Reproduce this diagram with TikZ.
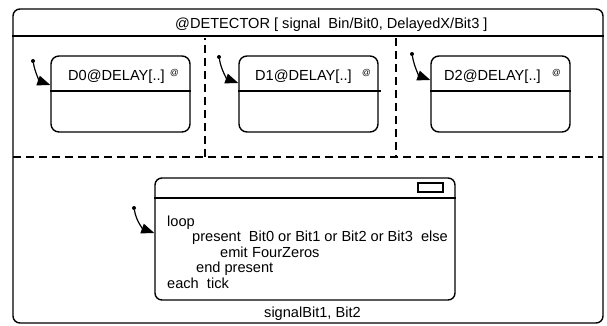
\documentclass[tikz,border=0pt]{standalone}
\usepackage{fontspec}
\setmainfont{Liberation Sans}
\usetikzlibrary{arrows.meta}
\begin{document}
\begin{tikzpicture}[x=1pt,y=-1pt,
  frame/.style={draw, line width=1.4pt, rounded corners=7pt, minimum width=#1, inner sep=0pt},
  statebox/.style={draw, line width=1.4pt, rounded corners=8pt, minimum width=139pt, minimum height=76pt, inner sep=0pt},
  divider/.style={line width=1.4pt},
  regionsep/.style={line width=1.4pt, dash pattern=on 8pt off 5pt},
  txt/.style={anchor=base west, inner sep=0pt, font=\fontsize{14.6}{15.5}\selectfont},
  tag/.style={anchor=base west, inner sep=0pt, font=\fontsize{8.5}{9}\selectfont},
  startdot/.style={circle, fill=black, inner sep=0pt, minimum size=4pt},
  init/.style={line width=1.2pt, -{Triangle[length=13pt,width=10pt]}}
]
\useasboundingbox (0,0) rectangle (607,326);

% outer state
\node[frame=590pt, minimum height=314pt] (outer) at (308,166) {};
\draw[divider] (outer.west |- 0,36) coordinate (tl) -- (outer.east |- 0,36) coordinate (tr);
\node[txt] (title) at (175,29) {@DETECTOR [ signal\ \ Bin/Bit0, DelayedX/Bit3 ]};

% concurrent regions
\coordinate (h0) at (13,157);
\coordinate (h1) at (603,157);
\draw[regionsep] (h0) -- (h1);
\coordinate (va) at (205,38);
\coordinate (vb) at (205,157);
\coordinate (vc) at (396,38);
\coordinate (vd) at (396,157);
\draw[regionsep, dash phase=6pt] (va) -- (vb);
\draw[regionsep] (vc) -- (vd);

% delay instances
\node[statebox] (d0) at (120.5,94) {};
\node[statebox] (d1) at (308.5,94) {};
\node[statebox] (d2) at (500.5,94) {};
\draw[divider] (d0.west |- 0,91) -- (d0.east |- 0,91);
\draw[divider] (d1.west |- 0,91) -- ([xshift=2pt]d1.east |- 0,91);
\draw[divider] (d2.west |- 0,91) -- (d2.east |- 0,91);
\node[txt] (d0t) at (68,81) {D0@DELAY[..]};
\node[tag] (d0a) at (170,76) {@};
\node[txt] (d1t) at (255,81) {D1@DELAY[..]};
\node[tag] (d1a) at (362,76) {@};
\node[txt] (d2t) at (444,81) {D2@DELAY[..]};
\node[tag] (d2a) at (552,76) {@};

% initial transitions
\node[startdot] (s0) at (33,61) {};
\node[startdot] (s1) at (219,57) {};
\node[startdot] (s2) at (412,54) {};
\draw[init] (s0) to[out=-80,in=160] ([yshift=9pt]d0.west);
\draw[init] (s1) to[out=-80,in=160] ([yshift=11pt]d1.west);
\draw[init] (s2) to[out=-80,in=160] ([yshift=14pt]d2.west);

% watchdog state
\node[frame=300pt, minimum height=122pt] (w) at (305,239) {};
\draw[divider] (w.west |- 0,198) -- (w.east |- 0,198);
\draw[line width=1.2pt] (418,183) rectangle (443,192);
\node[txt] (l1) at (167,226) {loop};
\node[txt] (l2) at (192,241.5) {present\ \ Bit0 or Bit1 or Bit2 or Bit3\ \ else};
\node[txt] (l3) at (220,257) {emit};
\node[txt] (l3b) at (252,257) {FourZeros};
\node[txt] (l4) at (196,272.5) {end present};
\node[txt] (l5) at (167,288) {each\ \ tick};
\node[txt] (sig) at (264,317) {signalBit1, Bit2};
\node[startdot] (s3) at (134,208) {};
\draw[init] (s3) to[out=-80,in=160] ([yshift=6pt]w.west);
\end{tikzpicture}
\end{document}
